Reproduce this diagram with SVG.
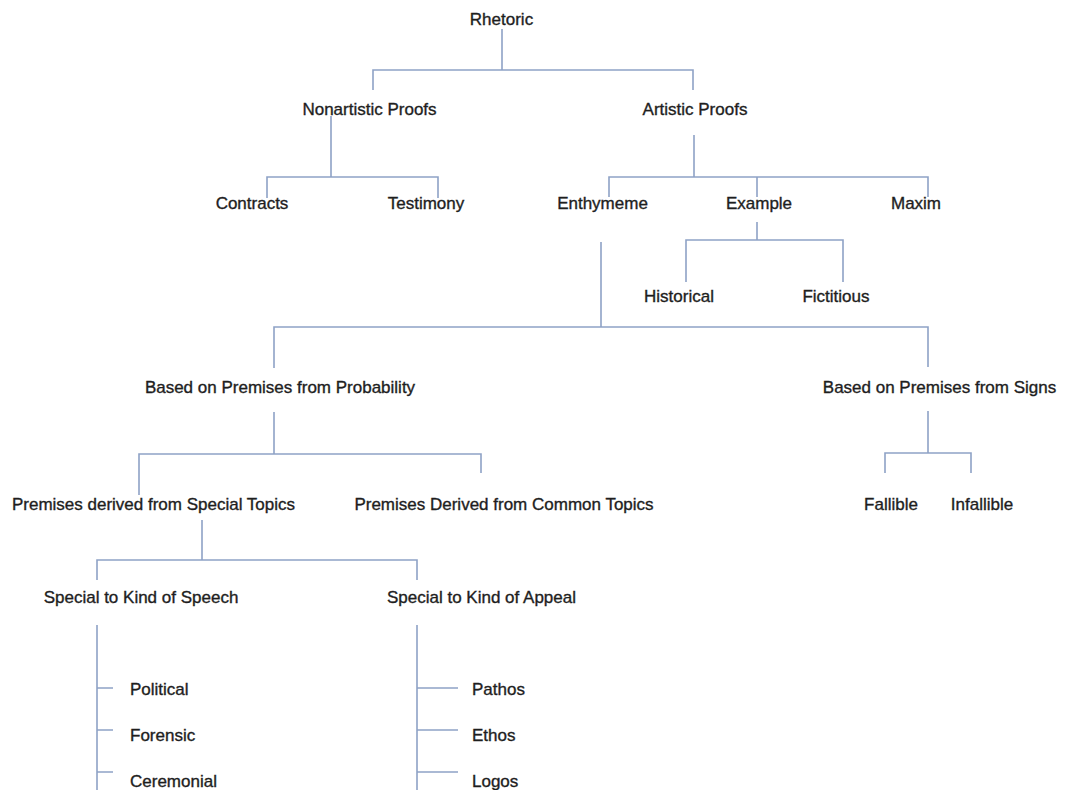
<svg xmlns="http://www.w3.org/2000/svg" width="1065" height="790" viewBox="0 0 1065 790">
<style>
.n text{font-family:"Liberation Sans",Arial,sans-serif;font-size:17px;fill:#1e1e1e;stroke:#1e1e1e;stroke-width:0.35;text-anchor:middle}
.n text.s{text-anchor:start}
#connectors path{fill:none;stroke:#8ea2c6;stroke-width:1.6}
</style>
<rect width="1065" height="790" fill="#fff"/>
<g id="connectors">
<path d="M502 29V70M373 90V70H693V90"/>
<path d="M331 116V177M267 198V177H438V198"/>
<path d="M694 135V177M609 197V177H928V197M757 177V197"/>
<path d="M757 222V240M686 282V240H843V282"/>
<path d="M601 242V327M274 368V327H928V367"/>
<path d="M274 412V454M139 495V454H481V473"/>
<path d="M928 411V453M885 473V453H971V473"/>
<path d="M202 520V560M97 580V560H417V580"/>
<path d="M97 625V790M97 688H113M97 730H113M97 772H113"/>
<path d="M417 625V790M417 688H458M417 730H458M417 772H458"/>
</g>
<g class="n" id="rhetoric"><text x="501.5" y="25">Rhetoric</text></g>
<g class="n" id="nonartistic"><text x="369.5" y="115">Nonartistic Proofs</text></g>
<g class="n" id="artistic"><text x="695" y="115">Artistic Proofs</text></g>
<g class="n" id="contracts"><text x="252" y="209">Contracts</text></g>
<g class="n" id="testimony"><text x="426" y="209">Testimony</text></g>
<g class="n" id="enthymeme"><text x="602.5" y="209">Enthymeme</text></g>
<g class="n" id="example"><text x="759" y="209">Example</text></g>
<g class="n" id="maxim"><text x="916" y="209">Maxim</text></g>
<g class="n" id="historical"><text x="679" y="302">Historical</text></g>
<g class="n" id="fictitious"><text x="836" y="302">Fictitious</text></g>
<g class="n" id="probability"><text x="280" y="393">Based on Premises from Probability</text></g>
<g class="n" id="signs"><text x="939.5" y="393">Based on Premises from Signs</text></g>
<g class="n" id="special-topics"><text x="153.5" y="510">Premises derived from Special Topics</text></g>
<g class="n" id="common-topics"><text x="504" y="510">Premises Derived from Common Topics</text></g>
<g class="n" id="fallible"><text x="891" y="510">Fallible</text></g>
<g class="n" id="infallible"><text x="982" y="510">Infallible</text></g>
<g class="n" id="speech"><text x="141" y="603">Special to Kind of Speech</text></g>
<g class="n" id="appeal"><text x="481.5" y="603">Special to Kind of Appeal</text></g>
<g class="n" id="political"><text class="s" x="130" y="695">Political</text></g>
<g class="n" id="forensic"><text class="s" x="130" y="741">Forensic</text></g>
<g class="n" id="ceremonial"><text class="s" x="130" y="787">Ceremonial</text></g>
<g class="n" id="pathos"><text class="s" x="472" y="695">Pathos</text></g>
<g class="n" id="ethos"><text class="s" x="472" y="741">Ethos</text></g>
<g class="n" id="logos"><text class="s" x="472" y="787">Logos</text></g>
</svg>
